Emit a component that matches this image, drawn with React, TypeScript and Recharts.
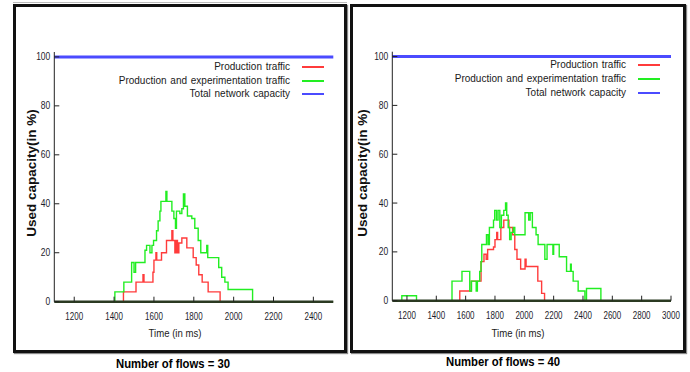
import React from 'react';
import { LineChart, Line, XAxis, YAxis, ReferenceLine } from 'recharts';

// capacity line and axis ticks
const CAPACITY = 100;
const yTicks = [0, 20, 40, 60, 80, 100];
const xTicks30 = [1200, 1400, 1600, 1800, 2000, 2200, 2400];
const xTicks40 = [1200, 1400, 1600, 1800, 2000, 2200, 2400, 2600, 2800, 3000];

// flows = 30, production traffic (step points: time ms, used %)
const prodTimes30 = [1100, 1447, 1510, 1545, 1550, 1595, 1600, 1610, 1614, 1638, 1663, 1690, 1695, 1705, 1712, 1718, 1725, 1740, 1765, 1797, 1812, 1825, 1842, 1872, 1932, 2500];
const prodValues30 = [0, 4, 8, 11, 8, 12, 17, 20, 17, 20, 25, 29, 25, 20, 25, 20, 24, 26, 22, 18, 15, 11, 8, 4, 0, 0];

// flows = 30, production + experimentation traffic
const mixTimes30 = [1100, 1404, 1449, 1488, 1500, 1508, 1555, 1563, 1580, 1590, 1598, 1613, 1621, 1630, 1635, 1660, 1665, 1690, 1700, 1708, 1713, 1730, 1740, 1748, 1755, 1768, 1790, 1805, 1822, 1835, 1865, 1870, 1925, 1940, 1956, 1972, 2095, 2500];
const mixValues30 = [0, 4, 8, 16, 12, 16, 21, 23, 20, 23, 25, 29, 33, 37, 41, 45, 41, 37, 34, 30, 37, 36, 38, 44, 39, 35, 34, 30, 25, 20, 23, 18, 14, 10, 8, 5, 0, 0];

// flows = 40, production traffic
const prodTimes40 = [1100, 1560, 1638, 1705, 1725, 1740, 1750, 1790, 1800, 1812, 1818, 1840, 1860, 1895, 1920, 1935, 1950, 1975, 2005, 2012, 2092, 2118, 2138, 3000];
const prodValues40 = [0, 4, 8, 16, 19, 17, 21, 22, 25, 28, 25, 30, 33, 30, 27, 21, 17, 13, 17, 14, 8, 3, 0, 0];

// flows = 40, production + experimentation traffic
const mixTimes40 = [1100, 1165, 1265, 1507, 1575, 1628, 1640, 1672, 1680, 1696, 1705, 1710, 1742, 1753, 1762, 1790, 1798, 1810, 1821, 1833, 1844, 1860, 1872, 1880, 1890, 1900, 1910, 1925, 1935, 2005, 2030, 2040, 2055, 2080, 2094, 2140, 2155, 2195, 2200, 2238, 2288, 2315, 2320, 2333, 2367, 2413, 2424, 2522, 3000];
const mixValues40 = [0, 2, 0, 8, 12, 4, 8, 4, 8, 12, 16, 23, 27, 23, 30, 33, 37, 33, 37, 30, 35, 37, 40, 35, 30, 25, 28, 30, 27, 36, 33, 36, 30, 27, 23, 17, 23, 19, 23, 18, 12, 15, 12, 8, 4, 0, 5, 0, 0];

const zip = (ts: number[], vs: number[]) => ts.map((t, i) => ({ t, v: vs[i] }));

const RED = '#ff3b3b';
const GREEN = '#22ee22';
const BLUE = '#4b4bff';

const sans = '"Liberation Sans", Arial, sans-serif';

const legendRows = [
  { label: 'Production traffic', color: RED },
  { label: 'Production and experimentation traffic', color: GREEN },
  { label: 'Total network capacity', color: BLUE },
];

// condensed tick labels (the source uses a narrow face)
function XTick({ x, y, payload }: any) {
  return (
    <g transform={`translate(${x},${y})`}>
      <text transform="scale(0.8,1)" textAnchor="middle" dy="0.71em" fontSize={10} fill="#1c1c2c" fontFamily={sans}>
        {payload.value}
      </text>
    </g>
  );
}

function YTick({ x, y, payload }: any) {
  return (
    <g transform={`translate(${x},${y})`}>
      <text transform="scale(0.85,1)" textAnchor="end" dy="0.355em" fontSize={10} fill="#1c1c2c" fontFamily={sans}>
        {payload.value}
      </text>
    </g>
  );
}

interface PanelProps {
  left: number;
  margin: { top: number; right: number; bottom: number; left: number };
  domain: [number, number];
  ticks: number[];
  prod: { t: number; v: number }[];
  mix: { t: number; v: number }[];
  frame: { left: number; width: number };
  yLabel: { x: number; y: number };
  xLabel: { x: number; y: number };
  caption: { x: number; y: number; text: string };
  legend: { textRight: number; sampleLeft: number; ys: number[] };
}

function Panel(p: PanelProps) {
  return (
    <>
      <div
        style={{
          position: 'absolute',
          left: p.frame.left,
          top: 4,
          width: p.frame.width,
          height: 349,
          boxSizing: 'border-box',
          border: '3px solid #111',
          boxShadow: '1px 1px 1px #888',
          background: '#fff',
        }}
      />
      <div style={{ position: 'absolute', left: p.left, top: 0 }}>
        <LineChart width={345} height={372} margin={p.margin}>
          <XAxis
            type="number"
            dataKey="t"
            domain={p.domain}
            ticks={p.ticks}
            interval={0}
            allowDataOverflow
            height={30}
            tickSize={-5}
            tickMargin={16}
            axisLine={{ stroke: '#2b3a22', strokeWidth: 2.5 }}
            tickLine={{ stroke: '#222' }}
            tick={<XTick />}
          />
          <XAxis
            xAxisId="top"
            orientation="top"
            type="number"
            dataKey="t"
            domain={p.domain}
            ticks={p.ticks}
            interval={0}
            allowDataOverflow
            height={0}
            tickSize={-5}
            tick={false}
            axisLine={{ stroke: '#222' }}
            tickLine={{ stroke: '#222' }}
          />
          <YAxis
            type="number"
            domain={[0, 102]}
            ticks={yTicks}
            interval={0}
            allowDataOverflow
            width={40}
            tickSize={-5}
            tickMargin={9}
            axisLine={{ stroke: '#222' }}
            tickLine={{ stroke: '#222' }}
            tick={<YTick />}
          />
          <YAxis
            yAxisId="right"
            orientation="right"
            type="number"
            domain={[0, 102]}
            ticks={yTicks}
            interval={0}
            allowDataOverflow
            width={0}
            tickSize={-5}
            tick={false}
            axisLine={{ stroke: '#222' }}
            tickLine={{ stroke: '#222' }}
          />
          <Line data={p.prod} dataKey="v" type="stepAfter" stroke={RED} strokeWidth={1.4} dot={false} isAnimationActive={false} />
          <Line data={p.mix} dataKey="v" type="stepAfter" stroke={GREEN} strokeWidth={1.4} dot={false} isAnimationActive={false} />
          <ReferenceLine y={CAPACITY} stroke={BLUE} strokeWidth={3} />
        </LineChart>
      </div>
      {legendRows.map((r, i) => (
        <React.Fragment key={r.label}>
          <div
            style={{
              position: 'absolute',
              right: 690 - p.legend.textRight,
              top: p.legend.ys[i] - 7,
              fontFamily: sans,
              fontSize: 10,
              lineHeight: '14px',
              color: '#1a1a1a',
              whiteSpace: 'nowrap',
              wordSpacing: 1,
            }}
          >
            {r.label}
          </div>
          <div
            style={{
              position: 'absolute',
              left: p.legend.sampleLeft,
              top: p.legend.ys[i] - 1,
              width: 22,
              height: 2,
              background: r.color,
            }}
          />
        </React.Fragment>
      ))}
      <div
        style={{
          position: 'absolute',
          left: p.yLabel.x - 80,
          top: p.yLabel.y - 9,
          width: 160,
          height: 18,
          lineHeight: '18px',
          textAlign: 'center',
          transform: 'rotate(-90deg)',
          fontFamily: sans,
          fontWeight: 'bold',
          fontSize: 13.5,
          color: '#111',
          whiteSpace: 'nowrap',
        }}
      >
        Used capacity(in %)
      </div>
      <div
        style={{
          position: 'absolute',
          left: p.xLabel.x - 60,
          top: p.xLabel.y - 8,
          width: 120,
          lineHeight: '16px',
          textAlign: 'center',
          fontFamily: sans,
          fontSize: 11,
          color: '#1a1a1a',
          transform: 'scaleX(0.87)',
        }}
      >
        Time (in ms)
      </div>
      <div
        style={{
          position: 'absolute',
          left: p.caption.x - 100,
          top: p.caption.y - 9,
          width: 200,
          lineHeight: '18px',
          textAlign: 'center',
          fontFamily: sans,
          fontWeight: 'bold',
          fontSize: 13,
          color: '#000',
          transform: 'scaleX(0.87)',
        }}
      >
        {p.caption.text}
      </div>
    </>
  );
}

export default function App() {
  return (
    <div style={{ position: 'absolute', left: 0, top: 0, width: 690, height: 372, background: '#fff', overflow: 'hidden' }}>
      <div style={{ position: 'absolute', left: 13, top: 2, width: 334, height: 1, background: '#bbb' }} />
      <Panel
        left={0}
        margin={{ top: 52, right: 11.7, bottom: 40.3, left: 14.3 }}
        domain={[1100, 2500]}
        ticks={xTicks30}
        prod={zip(prodTimes30, prodValues30)}
        mix={zip(mixTimes30, mixValues30)}
        frame={{ left: 13, width: 334 }}
        yLabel={{ x: 32, y: 173 }}
        xLabel={{ x: 175, y: 333 }}
        caption={{ x: 173, y: 364, text: 'Number of flows = 30' }}
        legend={{ textRight: 290, sampleLeft: 302, ys: [67, 81, 94] }}
      />
      <Panel
        left={345}
        margin={{ top: 51.7, right: 19, bottom: 41.3, left: 7.3 }}
        domain={[1100, 3000]}
        ticks={xTicks40}
        prod={zip(prodTimes40, prodValues40)}
        mix={zip(mixTimes40, mixValues40)}
        frame={{ left: 350, width: 336 }}
        yLabel={{ x: 363, y: 173 }}
        xLabel={{ x: 518, y: 333 }}
        caption={{ x: 503, y: 362, text: 'Number of flows = 40' }}
        legend={{ textRight: 626, sampleLeft: 638, ys: [65, 79, 93] }}
      />
    </div>
  );
}
